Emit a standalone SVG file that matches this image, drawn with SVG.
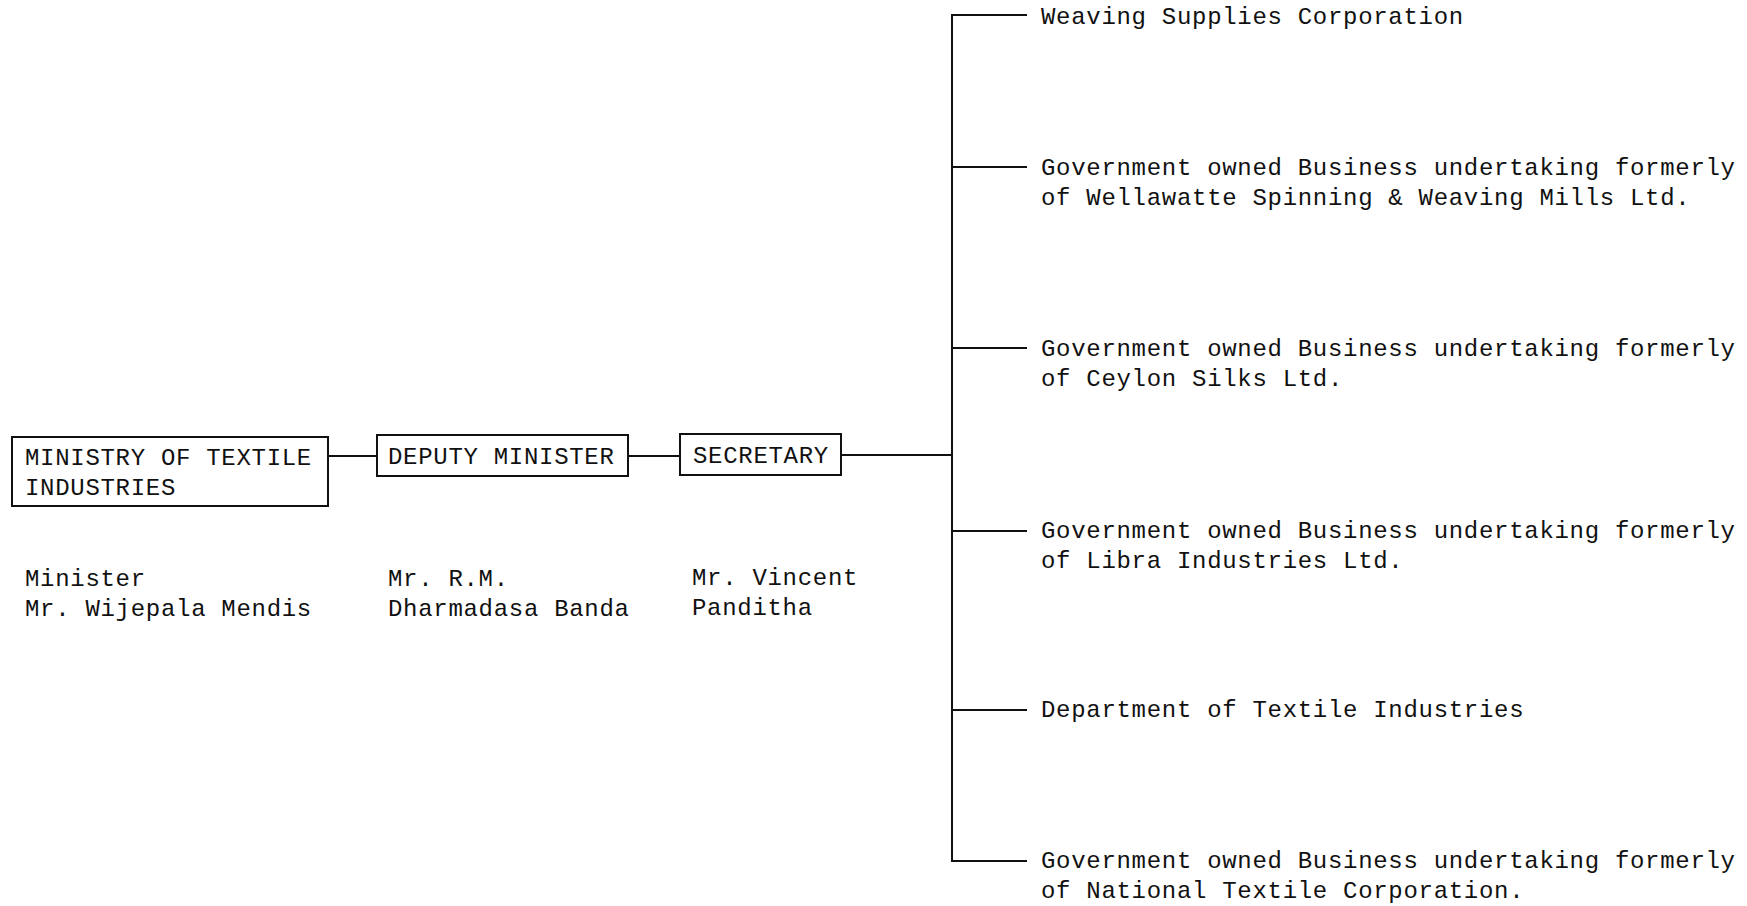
<svg xmlns="http://www.w3.org/2000/svg" width="1747" height="906" viewBox="0 0 1747 906">
<style>
text{font-family:"Liberation Mono","DejaVu Sans Mono",monospace;font-size:24px;letter-spacing:0.7px;fill:#111}
.box{fill:#fff;stroke:#111;stroke-width:2}
.c{stroke:#111;stroke-width:2;fill:none}
</style>
<rect width="1747" height="906" fill="#fff"/>
<g id="connectors">
<line class="c" x1="328" y1="456" x2="377" y2="456"/>
<line class="c" x1="628" y1="456" x2="680" y2="456"/>
<line class="c" x1="841" y1="455" x2="952" y2="455"/>
<line class="c" x1="952" y1="15" x2="952" y2="862"/>
<line class="c" x1="951" y1="15" x2="1027" y2="15"/>
<line class="c" x1="951" y1="167" x2="1027" y2="167"/>
<line class="c" x1="951" y1="348" x2="1027" y2="348"/>
<line class="c" x1="951" y1="531" x2="1027" y2="531"/>
<line class="c" x1="951" y1="710" x2="1027" y2="710"/>
<line class="c" x1="951" y1="861" x2="1027" y2="861"/>
</g>
<g id="ministry">
<rect class="box" x="12" y="437" width="316" height="69"/>
<text x="25" y="465">MINISTRY OF TEXTILE</text>
<text x="25" y="495">INDUSTRIES</text>
<text x="25" y="586">Minister</text>
<text x="25" y="616">Mr. Wijepala Mendis</text>
</g>
<g id="deputy">
<rect class="box" x="377" y="435" width="251" height="41"/>
<text x="388" y="464">DEPUTY MINISTER</text>
<text x="388" y="586">Mr. R.M.</text>
<text x="388" y="616">Dharmadasa Banda</text>
</g>
<g id="secretary">
<rect class="box" x="680" y="434" width="161" height="41"/>
<text x="693" y="463">SECRETARY</text>
<text x="692" y="585">Mr. Vincent</text>
<text x="692" y="615">Panditha</text>
</g>
<g id="weaving">
<text x="1041" y="24">Weaving Supplies Corporation</text>
</g>
<g id="wellawatte">
<text x="1041" y="175">Government owned Business undertaking formerly</text>
<text x="1041" y="205">of Wellawatte Spinning &amp; Weaving Mills Ltd.</text>
</g>
<g id="ceylon">
<text x="1041" y="356">Government owned Business undertaking formerly</text>
<text x="1041" y="386">of Ceylon Silks Ltd.</text>
</g>
<g id="libra">
<text x="1041" y="538">Government owned Business undertaking formerly</text>
<text x="1041" y="568">of Libra Industries Ltd.</text>
</g>
<g id="department">
<text x="1041" y="717">Department of Textile Industries</text>
</g>
<g id="national">
<text x="1041" y="868">Government owned Business undertaking formerly</text>
<text x="1041" y="898">of National Textile Corporation.</text>
</g>
</svg>
